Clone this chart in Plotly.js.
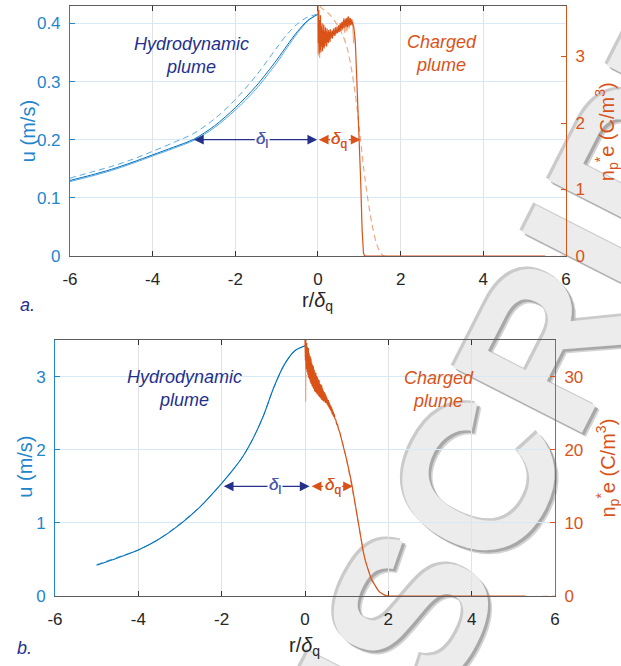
<!DOCTYPE html>
<html>
<head>
<meta charset="utf-8">
<script src="https://cdn.plot.ly/plotly-3.0.1.min.js"></script>
<style>
  html, body { margin: 0; padding: 0; background: #fff; }
  #chart { width: 621px; height: 666px; }
</style>
</head>
<body>
<div id="chart"></div>
<script>
// ---------- panel a: velocity (left axis) ----------
const xA_u = [-6, -5.5, -5, -4.5, -4, -3.5, -3, -2.5, -2, -1.5, -1, -0.75, -0.5, -0.25, 0];
const uA_solid1 = [0.130, 0.139, 0.149, 0.161, 0.174, 0.187, 0.201, 0.224, 0.255, 0.292, 0.337, 0.362, 0.386, 0.405, 0.416];
const uA_solid2 = [0.128, 0.137, 0.147, 0.159, 0.172, 0.185, 0.199, 0.221, 0.251, 0.287, 0.332, 0.358, 0.383, 0.404, 0.416];
const uA_dash   = [0.134, 0.144, 0.154, 0.166, 0.180, 0.195, 0.211, 0.236, 0.269, 0.310, 0.358, 0.381, 0.399, 0.411, 0.416];

// ---------- panel a: charge density (right axis) ----------
const xA_q = [0.00, 0.01, 0.02, 0.03, 0.04, 0.05, 0.06, 0.07, 0.08, 0.09,
              0.10, 0.11, 0.12, 0.13, 0.14, 0.15, 0.16, 0.17, 0.18, 0.19,
              0.20, 0.21, 0.22, 0.23, 0.24, 0.25, 0.26, 0.27, 0.28, 0.29,
              0.30, 0.31, 0.32, 0.33, 0.34, 0.35, 0.36, 0.37, 0.38, 0.39,
              0.40, 0.41, 0.42, 0.43, 0.44, 0.45, 0.46, 0.47, 0.48, 0.49,
              0.50, 0.51, 0.52, 0.53, 0.54, 0.55, 0.56, 0.57, 0.58, 0.59,
              0.60, 0.61, 0.62, 0.63, 0.64, 0.65, 0.66, 0.67, 0.68, 0.69,
              0.70, 0.71, 0.72, 0.73, 0.74, 0.75, 0.76, 0.77, 0.78, 0.79,
              0.80, 0.81, 0.82, 0.83, 0.84, 0.85, 0.86, 0.87, 0.88, 0.89,
              0.90, 0.91, 0.92, 0.93, 0.94, 0.95, 0.96, 0.97, 0.98, 0.99,
              1.00, 1.01, 1.02, 1.03, 1.04, 1.045, 1.05, 1.055, 1.06, 1.07,
              1.08, 1.09, 1.10, 1.12, 1.15, 5.5];
const qA_solid = [3.76, 3.20, 3.70, 3.05, 3.55, 3.10, 3.62, 3.06, 3.45, 3.15,
                  3.50, 3.08, 3.40, 3.14, 3.48, 3.12, 3.38, 3.16, 3.44, 3.20,
                  3.38, 3.15, 3.42, 3.22, 3.36, 3.20, 3.40, 3.24, 3.37, 3.22,
                  3.41, 3.27, 3.36, 3.29, 3.39, 3.27, 3.35, 3.30, 3.42, 3.32,
                  3.38, 3.31, 3.44, 3.34, 3.39, 3.36, 3.45, 3.35, 3.41, 3.38,
                  3.47, 3.37, 3.43, 3.40, 3.50, 3.39, 3.46, 3.42, 3.52, 3.41,
                  3.48, 3.44, 3.55, 3.43, 3.50, 3.46, 3.57, 3.45, 3.52, 3.48,
                  3.58, 3.44, 3.54, 3.47, 3.60, 3.46, 3.55, 3.49, 3.58, 3.47,
                  3.53, 3.50, 3.56, 3.48, 3.52, 3.46, 3.47, 3.42, 3.38, 3.32,
                  3.25, 3.12, 2.98, 2.82, 2.66, 2.50, 2.34, 2.18, 2.02, 1.88,
                  1.72, 1.56, 1.38, 1.18, 0.98, 0.62, 0.88, 0.70, 0.55, 0.36,
                  0.22, 0.12, 0.05, 0.01, 0.00, 0.00];
const xA_qLight = [0.00, 0.005, 0.01, 0.02, 0.03, 0.04, 0.05, 0.06, 0.08, 0.10,
                   0.60, 0.62, 0.65, 0.68, 0.70, 0.72, 0.75, 0.80, 0.84, 0.86, 0.88];
const qA_light  = [3.50, 3.02, 3.60, 3.10, 3.40, 2.98, 3.35, 3.12, 3.30, 3.25,
                   3.40, 3.58, 3.36, 3.55, 3.38, 3.60, 3.42, 3.56, 3.50, 3.20, 3.30];
const xA_qDash = [0.05, 0.10, 0.20, 0.30, 0.40, 0.50, 0.60, 0.70, 0.80, 0.90, 1.00, 1.10, 1.20, 1.30, 1.40, 1.50, 1.60, 6.00];
const qA_dash  = [3.76, 3.72, 3.68, 3.62, 3.54, 3.44, 3.32, 3.14, 2.85, 2.45, 1.92, 1.35, 0.88, 0.50, 0.22, 0.06, 0.00, 0.00];

// ---------- panel b: velocity (left axis) ----------
const xB_u = [-5, -4.5, -4, -3.5, -3, -2.5, -2, -1.75, -1.5, -1.25, -1, -0.75, -0.5, -0.25, 0];
const uB_solid = [0.42, 0.52, 0.63, 0.78, 0.98, 1.23, 1.54, 1.71, 1.90, 2.15, 2.46, 2.85, 3.16, 3.35, 3.42];
const uB_dash  = [0.43, 0.53, 0.63, 0.78, 0.99, 1.23, 1.54, 1.71, 1.90, 2.15, 2.46, 2.85, 3.16, 3.35, 3.42];

// ---------- panel b: charge density (right axis) ----------
const xB_q = [0.00, 0.01, 0.02, 0.03, 0.04, 0.05, 0.06, 0.07, 0.08, 0.09,
              0.10, 0.11, 0.12, 0.13, 0.14, 0.15, 0.16, 0.17, 0.18, 0.19,
              0.20, 0.21, 0.22, 0.23, 0.24, 0.25, 0.26, 0.27, 0.28, 0.29,
              0.30, 0.31, 0.32, 0.33, 0.34, 0.35, 0.36, 0.37, 0.38, 0.39,
              0.40, 0.41, 0.42, 0.43, 0.44, 0.45, 0.46, 0.47, 0.48, 0.49,
              0.50, 0.51, 0.52, 0.53, 0.54, 0.55, 0.56, 0.57, 0.58, 0.59,
              0.60, 0.61, 0.62, 0.63, 0.64, 0.65, 0.66, 0.67, 0.68, 0.69,
              0.70, 0.72, 0.74, 0.76, 0.78, 0.80, 0.82, 0.84, 0.86, 0.88,
              0.90, 0.92, 0.94, 0.96, 0.98, 1.00, 1.05, 1.10, 1.15, 1.20,
              1.25, 1.30, 1.35, 1.40, 1.45, 1.50, 1.55, 1.60, 1.65, 1.70,
              1.75, 1.80, 1.85, 1.90, 1.95, 2.00, 5.30];
const qB_solid = [35.0, 32.2, 35.0, 31.0, 34.6, 30.6, 34.0, 30.2, 33.9, 29.8,
                  33.2, 29.6, 32.8, 29.2, 32.5, 29.0, 31.9, 28.7, 31.6, 28.5,
                  31.4, 28.3, 30.9, 28.0, 30.6, 27.9, 30.5, 27.8, 30.1, 27.6,
                  29.9, 27.5, 29.6, 27.3, 29.5, 27.2, 29.0, 27.1, 28.9, 26.9,
                  28.8, 26.8, 28.4, 26.7, 28.1, 26.6, 27.9, 26.6, 27.7, 26.4,
                  27.5, 26.4, 27.2, 26.2, 26.9, 26.0, 26.8, 25.8, 26.5, 25.6,
                  26.2, 25.4, 26.0, 25.2, 25.8, 24.9, 25.5, 24.7, 25.2, 24.5,
                  24.9, 24.2, 24.1, 23.5, 23.5, 22.9, 22.7, 22.3, 21.8, 21.4,
                  21.0, 20.5, 20.0, 19.5, 19.1, 18.6, 17.4, 16.0, 14.4, 12.6,
                  10.8, 9.0, 7.4, 6.0, 4.8, 3.8, 3.0, 2.2, 1.7, 1.2,
                  0.8, 0.5, 0.3, 0.15, 0.05, 0.00, 0.00];
const xB_qLight = [0.01, 0.015, 0.02, 0.06];
const qB_light  = [35.0, 26.6, 30.2, 30.0];
const xB_qDash = [0.05, 0.30, 0.60, 0.90, 1.20, 1.50, 1.80, 2.00, 6.00];
const qB_dash  = [34.0, 29.6, 26.0, 21.0, 12.6, 3.8, 0.5, 0.0, 0.0];

// ---------- axes and annotation text ----------
const xTicks = [-6, -4, -2, 0, 2, 4, 6];
const xTickText = ['-6', '-4', '-2', '0', '2', '4', '6'];
const uTicksA = [0, 0.1, 0.2, 0.3, 0.4];
const uTickTextA = ['0', '0.1', '0.2', '0.3', '0.4'];
const qTicksA = [0, 1, 2, 3];
const uTicksB = [0, 1, 2, 3];
const qTicksB = [0, 10, 20, 30];

// arrow spans: [start, end, label position, height]
const deltaL_A = [-3.0, -0.02, -1.35, 0.2];
const deltaQ_A = [0.02, 1.03, 0.52, 1.75];
const deltaL_B = [-1.95, 0.11, -0.72, 1.5];
const deltaQ_B = [0.16, 1.15, 0.66, 15];

const BLUE = '#1f85cc';
const BLUE_DARK = '#0072BD';
const BLUE_LIGHT = '#5aaae0';
const ORANGE = '#D95319';
const ORANGE_LIGHT = '#f0a27c';
const NAVY = '#24308c';
const FONT = 'Liberation Sans, Arial, Helvetica, sans-serif';

function line(x, y, xa, ya, color, width, dash, smooth) {
  return {
    type: 'scatter', mode: 'lines', x: x, y: y, xaxis: xa, yaxis: ya,
    line: { color: color, width: width, dash: dash || 'solid', shape: smooth ? 'spline' : 'linear', smoothing: 0.8 },
    hoverinfo: 'skip', showlegend: false
  };
}

const traces = [
  // panel a
  line(xA_u, uA_solid2, 'x', 'y', BLUE_LIGHT, 1, 'solid', true),
  line(xA_u, uA_solid1, 'x', 'y', BLUE_DARK, 1, 'solid', true),
  line(xA_u, uA_dash, 'x', 'y', BLUE_LIGHT, 1, '6px,4px', true),
  line(xA_qDash, qA_dash, 'x', 'y2', ORANGE_LIGHT, 1.1, '6px,4px', true),
  line(xA_qLight, qA_light, 'x', 'y2', ORANGE_LIGHT, 1, 'solid', false),
  line(xA_q, qA_solid, 'x', 'y2', ORANGE, 1.2, 'solid', false),
  // panel b
  line(xB_u, uB_dash, 'x2', 'y3', BLUE_LIGHT, 1, '6px,4px', true),
  line(xB_u, uB_solid, 'x2', 'y3', BLUE_DARK, 1.1, 'solid', true),
  line(xB_qDash, qB_dash, 'x2', 'y4', ORANGE_LIGHT, 1, '6px,4px', true),
  line(xB_qLight, qB_light, 'x2', 'y4', ORANGE_LIGHT, 1, 'solid', false),
  line(xB_q, qB_solid, 'x2', 'y4', ORANGE, 1.2, 'solid', false)
];

function xAxis(domain, anchor) {
  return {
    domain: domain, anchor: anchor, range: [-6, 6],
    tickmode: 'array', tickvals: xTicks, ticktext: xTickText,
    ticks: 'inside', ticklen: 5, tickwidth: 1, tickcolor: '#333',
    showline: true, linecolor: '#5c5c5c', linewidth: 1, mirror: 'ticks',
    showgrid: true, gridcolor: '#e2e2e2', gridwidth: 1, zeroline: false,
    tickfont: { family: FONT, size: 17, color: '#262626' },
    ticklabelstandoff: 8, layer: 'below traces'
  };
}
function yLeft(domain, anchor, range, vals, text) {
  return {
    domain: domain, anchor: anchor, range: range,
    tickmode: 'array', tickvals: vals, ticktext: text,
    ticks: 'inside', ticklen: 5, tickwidth: 1, tickcolor: BLUE,
    showline: true, linecolor: BLUE, linewidth: 1,
    showgrid: true, gridcolor: '#d7e9f6', gridwidth: 1, zeroline: false,
    tickfont: { family: FONT, size: 17, color: BLUE },
    ticklabelstandoff: 5, layer: 'below traces'
  };
}
function yRight(overlay, anchor, range, vals) {
  return {
    overlaying: overlay, side: 'right', anchor: anchor, range: range,
    tickmode: 'array', tickvals: vals,
    ticks: 'inside', ticklen: 5, tickwidth: 1, tickcolor: ORANGE,
    showline: true, linecolor: ORANGE, linewidth: 1,
    showgrid: false, zeroline: false,
    tickfont: { family: FONT, size: 17, color: ORANGE },
    ticklabelstandoff: 5, layer: 'below traces'
  };
}

function arrowPair(xref, yref, span, label, color, labelColor) {
  const common = {
    xref: xref, yref: yref, axref: xref, ayref: yref,
    ax: span[2], ay: span[3], y: span[3], text: label,
    showarrow: true, arrowhead: 2, arrowsize: 1.5, arrowwidth: 1.3,
    arrowcolor: color, standoff: 0, startstandoff: 0, borderpad: 1,
    font: { family: FONT, size: 17, color: labelColor }
  };
  const toStart = Object.assign({}, common, { x: span[0] });
  const toEnd = Object.assign({}, common, { x: span[1] });
  return [toStart, toEnd];
}

function paperText(x, y, text, size, color, angle, italic) {
  return {
    xref: 'paper', yref: 'paper', x: x, y: y, text: text, showarrow: false,
    xanchor: 'center', yanchor: 'middle', textangle: angle || 0,
    font: { family: FONT, size: size, color: color, style: italic ? 'italic' : 'normal' }
  };
}

// bevelled watermark behind the data: darker offset copies form the
// edges, a pale copy on top forms the face
const WATERMARK = 'MANUSCRIPT';
const WM_X = 0.632, WM_Y = 0.098;
function watermarkLayer(dxPx, dyPx, color) {
  const cx = WM_X + dxPx / 621, cy = WM_Y + dyPx / 666;
  return {
    type: 'rect', xref: 'paper', yref: 'paper', layer: 'below',
    x0: cx - 0.001, x1: cx + 0.001, y0: cy - 0.001, y1: cy + 0.001,
    line: { width: 0 }, fillcolor: 'rgba(0,0,0,0)',
    label: {
      text: WATERMARK, textangle: -63, textposition: 'middle center',
      xanchor: 'center', yanchor: 'middle', padding: 0,
      font: { family: FONT, size: 210, weight: 'bold', color: color }
    }
  };
}
const shapes = [
  watermarkLayer(4, -4, 'rgba(175,175,175,0.55)'),
  watermarkLayer(2.5, -2.5, 'rgba(150,150,150,0.7)'),
  watermarkLayer(-2.5, 2.5, 'rgba(180,180,180,0.7)'),
  watermarkLayer(0, 0, 'rgb(236,236,236)')
];

const annotations = [
  // plume labels
  { xref: 'x', yref: 'y', x: -3.06, y: 0.345, text: 'Hydrodynamic<br>plume', showarrow: false,
    font: { family: FONT, size: 18, color: NAVY, style: 'italic' } },
  { xref: 'x', yref: 'y2', x: 2.99, y: 3.05, text: 'Charged<br>plume', showarrow: false,
    font: { family: FONT, size: 18, color: ORANGE, style: 'italic' } },
  { xref: 'x2', yref: 'y3', x: -2.9, y: 2.84, text: 'Hydrodynamic<br>plume', showarrow: false,
    font: { family: FONT, size: 18, color: NAVY, style: 'italic' } },
  { xref: 'x2', yref: 'y4', x: 3.21, y: 28.3, text: 'Charged<br>plume', showarrow: false,
    font: { family: FONT, size: 18, color: ORANGE, style: 'italic' } },
  // length-scale arrows
  ...arrowPair('x', 'y', deltaL_A, '<i>δ</i><sub>l</sub>', NAVY, '#4c5ab0'),
  ...arrowPair('x', 'y2', deltaQ_A, '<i>δ</i><sub>q</sub>', ORANGE, ORANGE),
  ...arrowPair('x2', 'y3', deltaL_B, '<i>δ</i><sub>l</sub>', NAVY, '#4c5ab0'),
  ...arrowPair('x2', 'y4', deltaQ_B, '<i>δ</i><sub>q</sub>', ORANGE, ORANGE),
  // axis titles
  paperText(0.512, 0.548, 'r/<i>δ</i><sub>q</sub>', 20, '#262626'),
  paperText(0.491, 0.029, 'r/<i>δ</i><sub>q</sub>', 20, '#262626'),
  paperText(0.045, 0.803, 'u (m/s)', 20, BLUE, -90),
  paperText(0.040, 0.299, 'u (m/s)', 20, BLUE, -90),
  paperText(0.978, 0.802, 'n<sub>p</sub><sup>*</sup>e (C/m<sup>3</sup>)', 20, ORANGE, -90),
  paperText(0.978, 0.297, 'n<sub>p</sub><sup>*</sup>e (C/m<sup>3</sup>)', 20, ORANGE, -90),
  // panel letters
  paperText(0.045, 0.542, 'a.', 18, NAVY, 0, true),
  paperText(0.040, 0.027, 'b.', 18, NAVY, 0, true)
];

const layout = {
  width: 621, height: 666,
  margin: { l: 0, r: 0, t: 0, b: 0, pad: 0 },
  paper_bgcolor: '#ffffff', plot_bgcolor: 'rgba(0,0,0,0)',
  showlegend: false,
  font: { family: FONT },
  xaxis: xAxis([0.1127, 0.9114], 'y'),
  yaxis: yLeft([0.6156, 0.991], 'x', [0, 0.43], uTicksA, uTickTextA),
  yaxis2: yRight('y', 'x', [0, 3.76], qTicksA),
  xaxis2: xAxis([0.0886, 0.8937], 'y3'),
  yaxis3: yLeft([0.1051, 0.4895], 'x2', [0, 3.5], uTicksB, ['0', '1', '2', '3']),
  yaxis4: yRight('y3', 'x2', [0, 35], qTicksB),
  shapes: shapes,
  annotations: annotations
};

Plotly.newPlot('chart', traces, layout, { staticPlot: true, displayModeBar: false });
</script>
</body>
</html>
